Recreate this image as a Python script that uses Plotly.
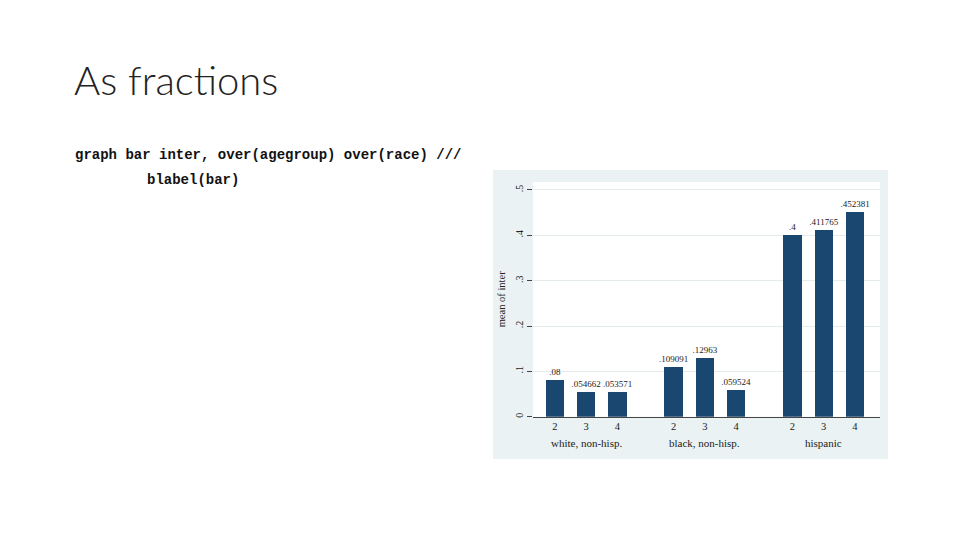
import plotly.graph_objects as go

# data
races = ["white, non-hisp.", "black, non-hisp.", "hispanic"]
agegroups = ["2", "3", "4"]
white = [0.08, 0.054662, 0.053571]
black = [0.109091, 0.12963, 0.059524]
hispanic = [0.4, 0.411765, 0.452381]
ytick_vals = [0, 0.1, 0.2, 0.3, 0.4, 0.5]
ytick_text = ["0", ".1", ".2", ".3", ".4", ".5"]

W, H = 960, 540
OFF = 8  # page body margin
navy = "#1a476f"
stata_bg = "#eaf2f3"
serif = "Liberation Serif"

def px_x(v):
    return (v - OFF) / W

def px_y(v):
    return 1 - (v - OFF) / H

def stata_label(v):
    s = "{:.6g}".format(v)
    return s[1:] if s.startswith("0.") else s

# bar positions: 1 unit inside a group, a wider gap between groups
group_step = 3.8
xs, ys, texts, tickvals, ticktext, centers = [], [], [], [], [], []
for g, vals in enumerate([white, black, hispanic]):
    for i, v in enumerate(vals):
        pos = g * group_step + i
        xs.append(pos)
        ys.append(v)
        texts.append(stata_label(v))
        tickvals.append(pos)
        ticktext.append(agegroups[i])
    centers.append(g * group_step + 1)

label_font = dict(family=serif, size=9, color="#222222")

fig = go.Figure()
fig.add_trace(go.Bar(
    x=xs, y=ys, text=texts, textposition="outside", constraintext="none",
    textfont=label_font, outsidetextfont=label_font,
    marker=dict(color=navy, line=dict(width=0)),
    width=0.59, cliponaxis=False, showlegend=False,
))

# stata graph region + white plot region
fig.add_shape(type="rect", xref="paper", yref="paper",
              x0=px_x(493), x1=px_x(888), y0=px_y(459), y1=px_y(170),
              fillcolor=stata_bg, line=dict(width=0), layer="below")
fig.add_shape(type="rect", xref="paper", yref="paper",
              x0=px_x(533), x1=px_x(880), y0=px_y(416.7), y1=px_y(182),
              fillcolor="white", line=dict(width=0), layer="below")

for c, name in zip(centers, races):
    fig.add_annotation(x=c, y=px_y(443), xref="x", yref="paper", text=name,
                       yanchor="middle", showarrow=False,
                       font=dict(family=serif, size=11, color="#222"))

# slide title and code text
fig.add_annotation(x=px_x(72), y=px_y(80), xref="paper", yref="paper", text="As fractions",
                   xanchor="left", yanchor="middle", showarrow=False,
                   font=dict(family="Lato", size=40, color="#222", weight=300))
fig.add_annotation(x=px_x(73), y=px_y(155), xref="paper", yref="paper",
                   text="graph bar inter, over(agegroup) over(race) ///",
                   xanchor="left", yanchor="middle", showarrow=False,
                   font=dict(family="Liberation Mono", size=14, color="#111", weight=700))
fig.add_annotation(x=px_x(145), y=px_y(180), xref="paper", yref="paper",
                   text="blabel(bar)",
                   xanchor="left", yanchor="middle", showarrow=False,
                   font=dict(family="Liberation Mono", size=14, color="#111", weight=700))

fig.update_layout(
    width=W, height=H,
    margin=dict(l=0, r=0, t=0, b=0),
    paper_bgcolor="white", plot_bgcolor="rgba(0,0,0,0)",
    bargap=0,
    xaxis=dict(domain=[px_x(533), px_x(880)], range=[-0.7, 2 * group_step + 2.8],
               tickvals=tickvals, ticktext=ticktext, showgrid=False, zeroline=False,
               showline=True, linecolor="#444", linewidth=1, ticks="",
               tickfont=dict(family=serif, size=10.5, color="#222")),
    yaxis=dict(domain=[px_y(416.7), px_y(182)], range=[0, 0.5176],
               tickvals=ytick_vals, ticktext=ytick_text, tickangle=-90,
               showgrid=True, gridcolor="#e3ebed", gridwidth=1, zeroline=False,
               showline=False, ticks="outside", ticklen=5, tickcolor="#444",
               tickfont=dict(family=serif, size=10, color="#222"),
               title=dict(text="mean of inter", standoff=6,
                          font=dict(family=serif, size=10.5, color="#222"))),
)

fig.write_html("out.html")
